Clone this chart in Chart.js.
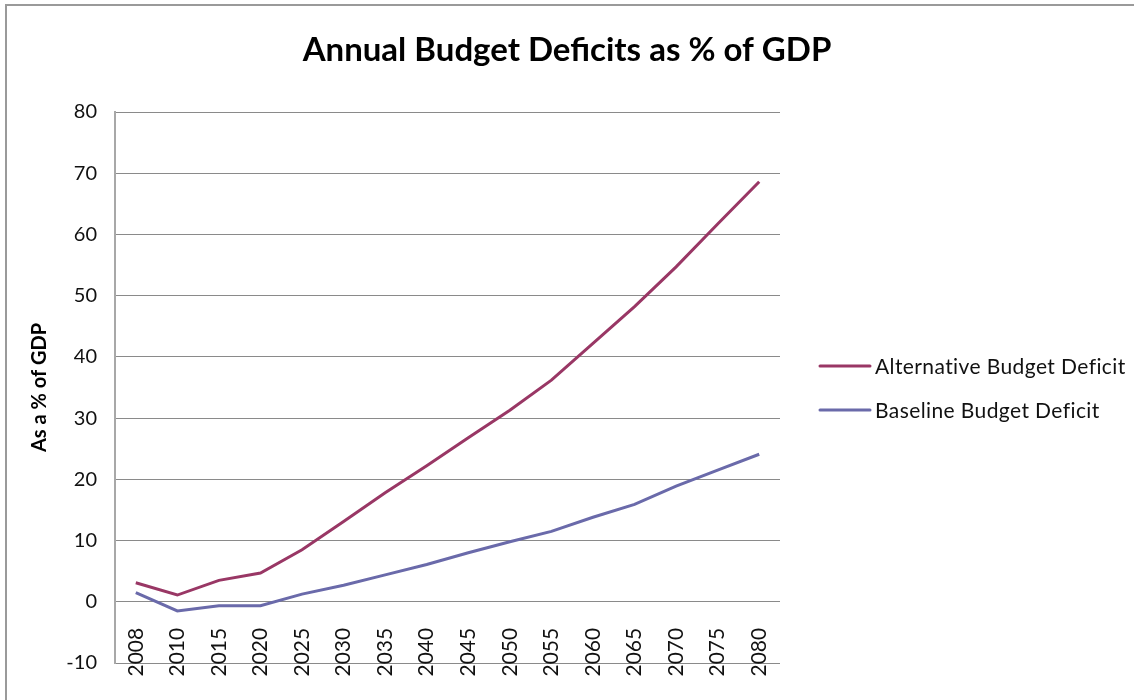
<!DOCTYPE html>
<html>
<head>
<meta charset="utf-8">
<script src="https://cdn.jsdelivr.net/npm/chart.js@4.4.1/dist/chart.umd.min.js"></script>
<style>
  html, body { margin: 0; padding: 0; background: #ffffff; }
  #wrap { position: relative; width: 1134px; height: 700px; }
</style>
</head>
<body>
<div id="wrap"><canvas id="c" width="1134" height="700"></canvas></div>
<script>
const years = ['2008','2010','2015','2020','2025','2030','2035','2040','2045','2050','2055','2060','2065','2070','2075','2080'];
const alternativeDeficit = [3.1, 1.1, 3.5, 4.7, 8.5, 13.1, 17.8, 22.2, 26.8, 31.3, 36.2, 42.2, 48.2, 54.7, 61.7, 68.6];
const baselineDeficit = [1.5, -1.5, -0.65, -0.65, 1.25, 2.7, 4.4, 6.1, 8.0, 9.8, 11.5, 13.8, 15.9, 18.9, 21.5, 24.1];
const seriesNames = ['Alternative Budget Deficit', 'Baseline Budget Deficit'];
const chartTitle = 'Annual Budget Deficits as % of GDP';
const yAxisTitle = 'As a % of GDP';

const FONT = 'Lato, "Liberation Sans", sans-serif';

const frame = {
  id: 'frame',
  beforeDraw(chart) {
    const ctx = chart.ctx;
    ctx.save();
    ctx.fillStyle = '#ffffff';
    ctx.fillRect(0, 0, chart.width, chart.height);
    ctx.strokeStyle = '#9a9a9a';
    ctx.lineWidth = 2;
    ctx.beginPath();
    ctx.moveTo(6, 700);
    ctx.lineTo(6, 5);
    ctx.lineTo(1134, 5);
    ctx.stroke();
    ctx.restore();
  }
};

const topTitle = {
  id: 'topTitle',
  afterDraw(chart) {
    const ctx = chart.ctx;
    ctx.save();
    ctx.fillStyle = '#000000';
    ctx.font = 'bold 33px ' + FONT;
    ctx.textAlign = 'center';
    ctx.textBaseline = 'middle';
    ctx.fillText(chartTitle, chart.width / 2, 50);
    ctx.restore();
  }
};

const sideLegend = {
  id: 'sideLegend',
  afterDraw(chart) {
    const ctx = chart.ctx;
    const ys = [366, 410];
    ctx.save();
    chart.data.datasets.forEach((ds, i) => {
      const y = ys[i];
      ctx.strokeStyle = ds.borderColor;
      ctx.lineWidth = 3;
      ctx.lineCap = 'round';
      ctx.beginPath();
      ctx.moveTo(820, y);
      ctx.lineTo(870, y);
      ctx.stroke();
      ctx.fillStyle = '#111111';
      ctx.font = '21px ' + FONT;
      if ('letterSpacing' in ctx) ctx.letterSpacing = '0.4px';
      ctx.textAlign = 'left';
      ctx.textBaseline = 'middle';
      ctx.fillText(ds.label, 875, y + 1);
    });
    ctx.restore();
  }
};

new Chart(document.getElementById('c'), {
  type: 'line',
  data: {
    labels: years,
    datasets: [
      { label: seriesNames[0], data: alternativeDeficit, borderColor: '#993765', backgroundColor: '#993765', borderWidth: 3, pointRadius: 0, tension: 0 },
      { label: seriesNames[1], data: baselineDeficit, borderColor: '#6a6aaa', backgroundColor: '#6a6aaa', borderWidth: 3, pointRadius: 0, tension: 0 }
    ]
  },
  options: {
    responsive: false,
    animation: false,
    layout: { padding: { left: 0, right: 354, top: 112, bottom: 37 } },
    plugins: {
      legend: { display: false },
      tooltip: { enabled: false },
      title: { display: false }
    },
    scales: {
      x: {
        type: 'category',
        position: { y: 0 },
        offset: true,
        grid: { display: false },
        border: { display: false },
        ticks: {
          autoSkip: false,
          minRotation: 90,
          maxRotation: 90,
          padding: 18,
          color: '#111111',
          font: { family: FONT, size: 21 }
        }
      },
      y: {
        min: -10,
        max: 80,
        ticks: {
          stepSize: 10,
          padding: 18,
          color: '#111111',
          font: { family: FONT, size: 20 }
        },
        grid: { color: '#8a8a8a', lineWidth: 1, drawTicks: false },
        border: { display: true, color: '#a8a8a8', width: 2 },
        title: {
          display: true,
          text: yAxisTitle,
          color: '#000000',
          font: { family: FONT, size: 20, weight: 'bold' },
          padding: { top: 28, bottom: 0 }
        },
        afterFit(scale) { scale.width = 115; }
      }
    }
  },
  plugins: [frame, topTitle, sideLegend]
});
</script>
</body>
</html>
